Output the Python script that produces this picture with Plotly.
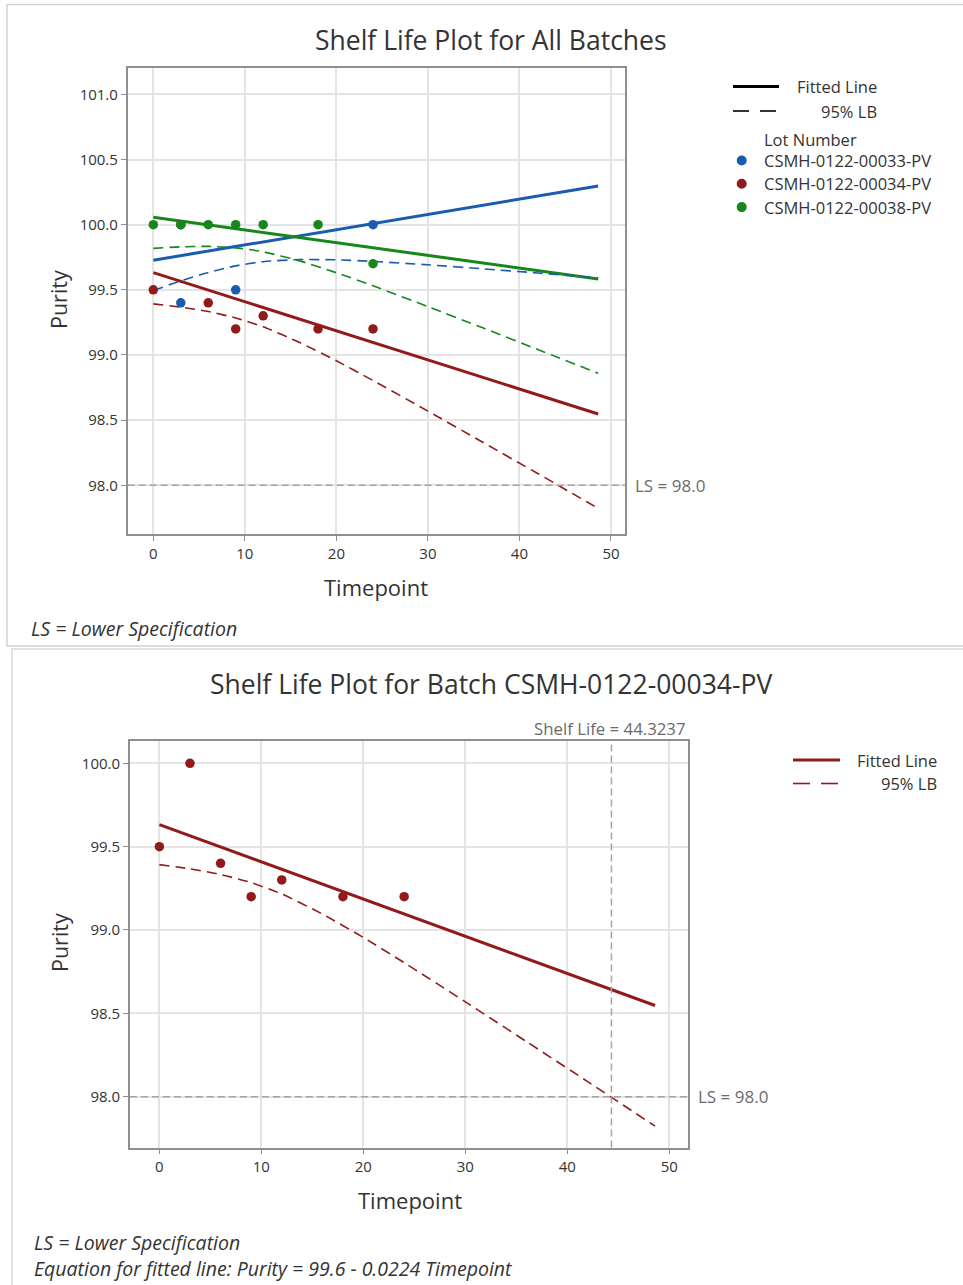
import plotly.graph_objects as go

W, H = 963, 1285

# ---------------- data ----------------
lot_names = ["CSMH-0122-00033-PV", "CSMH-0122-00034-PV", "CSMH-0122-00038-PV"]
lot_colors = ["#1a5cb0", "#931a1a", "#15871b"]

blue_t = [3, 9, 24]
blue_purity = [99.4, 99.5, 100.0]
red_t = [0, 3, 6, 9, 12, 18, 24]
red_purity = [99.5, 100.0, 99.4, 99.2, 99.3, 99.2, 99.2]
green_t = [0, 3, 6, 9, 12, 18, 24]
green_purity = [100.0, 100.0, 100.0, 100.0, 100.0, 100.0, 99.7]

fit_t = [0, 48.6]
blue_fit = [99.727, 100.297]
red_fit = [99.632, 98.547]
green_fit = [100.057, 99.583]

lb_t = [0, 3, 6, 9, 12, 16, 20, 24, 30, 36, 42, 48.6]
blue_lb = [99.495, 99.568, 99.633, 99.684, 99.716, 99.732, 99.730, 99.718, 99.692, 99.661, 99.629, 99.591]
red_lb = [99.392, 99.367, 99.333, 99.284, 99.216, 99.095, 98.955, 98.804, 98.569, 98.330, 98.090, 97.823]
green_lb = [99.818, 99.830, 99.833, 99.822, 99.792, 99.722, 99.631, 99.531, 99.371, 99.208, 99.042, 98.859]

lower_spec = 98.0
shelf_life = 44.3237
x_ticks = [0, 10, 20, 30, 40, 50]
y_ticks_top = [98.0, 98.5, 99.0, 99.5, 100.0, 100.5, 101.0]
y_ticks_bot = [98.0, 98.5, 99.0, 99.5, 100.0]

FONT = "Open Sans"
TXT = "#333333"
GREY = "#6b6b6b"
FRAME = "#8f8f8f"
GRID = "#e4e4e4"


def px(x):
    return x / W


def py(y):
    return 1 - y / H


fig = go.Figure()

# ---------------- top chart ----------------
for t, y, c in [(fit_t, blue_fit, lot_colors[0]), (fit_t, red_fit, lot_colors[1]), (fit_t, green_fit, lot_colors[2])]:
    fig.add_trace(go.Scatter(x=t, y=y, mode="lines", line=dict(color=c, width=3),
                             xaxis="x", yaxis="y", showlegend=False, hoverinfo="skip"))
for t, y, c in [(lb_t, blue_lb, lot_colors[0]), (lb_t, red_lb, lot_colors[1]), (lb_t, green_lb, lot_colors[2])]:
    fig.add_trace(go.Scatter(x=t, y=y, mode="lines",
                             line=dict(color=c, width=1.6, dash="10px,6px", shape="spline", smoothing=0.6),
                             xaxis="x", yaxis="y", showlegend=False, hoverinfo="skip"))
for t, y, c, n in [(blue_t, blue_purity, lot_colors[0], lot_names[0]),
                   (red_t, red_purity, lot_colors[1], lot_names[1]),
                   (green_t, green_purity, lot_colors[2], lot_names[2])]:
    fig.add_trace(go.Scatter(x=t, y=y, mode="markers", marker=dict(color=c, size=9.5),
                             name=n, xaxis="x", yaxis="y", showlegend=False))

# ---------------- bottom chart ----------------
fig.add_trace(go.Scatter(x=fit_t, y=red_fit, mode="lines", line=dict(color=lot_colors[1], width=3),
                         xaxis="x2", yaxis="y2", showlegend=False, hoverinfo="skip"))
fig.add_trace(go.Scatter(x=lb_t, y=red_lb, mode="lines",
                         line=dict(color=lot_colors[1], width=1.6, dash="10px,6px", shape="spline", smoothing=0.6),
                         xaxis="x2", yaxis="y2", showlegend=False, hoverinfo="skip"))
fig.add_trace(go.Scatter(x=red_t, y=red_purity, mode="markers", marker=dict(color=lot_colors[1], size=9.5),
                         name=lot_names[1], xaxis="x2", yaxis="y2", showlegend=False))

axis_common = dict(showgrid=True, gridcolor=GRID, gridwidth=1.5, zeroline=False,
                   showline=True, linecolor=FRAME, linewidth=1.6, mirror=True,
                   ticks="outside", ticklen=5, tickcolor=FRAME, tickwidth=1,
                   tickfont=dict(family=FONT, size=15, color=TXT))

fig.update_layout(
    width=W, height=H, margin=dict(l=0, r=0, t=0, b=0),
    paper_bgcolor="white", plot_bgcolor="white", showlegend=False,
    xaxis=dict(domain=[px(127.7), px(624.7)], range=[-2.8, 51.5], anchor="y",
               tickvals=x_ticks, **axis_common),
    yaxis=dict(domain=[py(534), py(68.3)], range=[97.626, 101.2], anchor="x",
               tickvals=y_ticks_top, ticktext=[f"{v:.1f}" for v in y_ticks_top], **axis_common),
    xaxis2=dict(domain=[px(129.9), px(687.7)], range=[-2.89, 51.8], anchor="y2",
                tickvals=x_ticks, **axis_common),
    yaxis2=dict(domain=[py(1147.5), py(741.3)], range=[97.695, 100.132], anchor="x2",
                tickvals=y_ticks_bot, ticktext=[f"{v:.1f}" for v in y_ticks_bot], **axis_common),
)

shapes = []
annos = []

# panel borders
shapes.append(dict(type="rect", xref="paper", yref="paper", x0=px(7), x1=px(975), y0=py(646), y1=py(4.5),
                   line=dict(color="#d2d2d2", width=1.5), layer="below"))
shapes.append(dict(type="rect", xref="paper", yref="paper", x0=px(12), x1=px(975), y0=py(1295), y1=py(649),
                   line=dict(color="#dadada", width=1.5), layer="below"))

# lower spec lines
for xa, ya in [("x", "y"), ("x2", "y2")]:
    shapes.append(dict(type="line", xref=f"{xa} domain", yref=ya, x0=0, x1=1, y0=lower_spec, y1=lower_spec,
                       line=dict(color="#a3a3a3", width=1.5, dash="7px,4px")))
    annos.append(dict(xref=f"{xa} domain", yref=ya, x=1, y=lower_spec, xanchor="left", yanchor="middle",
                      xshift=8, text=f"LS = {lower_spec:.1f}", showarrow=False,
                      font=dict(family=FONT, size=17, color=GREY)))

# shelf life line
shapes.append(dict(type="line", xref="x2", yref="y2 domain", x0=shelf_life, x1=shelf_life, y0=0, y1=1,
                   line=dict(color="#a3a3a3", width=1.5, dash="7px,4px")))
annos.append(dict(xref="x2 domain", yref="y2 domain", x=1, y=1, xanchor="right", yanchor="bottom",
                  yshift=-1, text=f"Shelf Life = {shelf_life}", showarrow=False,
                  font=dict(family=FONT, size=16.8, color=GREY)))

# titles
annos.append(dict(xref="paper", yref="paper", x=px(490.5), y=py(40), xanchor="center", yanchor="middle",
                  text="Shelf Life Plot for All Batches", showarrow=False,
                  font=dict(family=FONT, size=26.5, color=TXT)))
annos.append(dict(xref="paper", yref="paper", x=px(491.5), y=py(684), xanchor="center", yanchor="middle",
                  text="Shelf Life Plot for Batch CSMH-0122-00034-PV", showarrow=False,
                  font=dict(family=FONT, size=26.5, color=TXT)))

# axis titles
for x, y in [(376, 587), (410, 1200)]:
    annos.append(dict(xref="paper", yref="paper", x=px(x), y=py(y), xanchor="center", yanchor="middle",
                      text="Timepoint", showarrow=False, font=dict(family=FONT, size=22, color=TXT)))
for x, y in [(58, 300), (60, 943)]:
    annos.append(dict(xref="paper", yref="paper", x=px(x), y=py(y), xanchor="center", yanchor="middle",
                      text="Purity", textangle=-90, showarrow=False, font=dict(family=FONT, size=21.5, color=TXT)))

# footnotes
for y, x0, t in [(628, 30, "LS = Lower Specification"), (1242, 33, "LS = Lower Specification"),
                 (1268, 33, "Equation for fitted line: Purity = 99.6 - 0.0224 Timepoint")]:
    annos.append(dict(xref="paper", yref="paper", x=px(x0), y=py(y), xanchor="left", yanchor="middle",
                      text=f"<i>{t}</i>", showarrow=False, borderpad=0,
                      font=dict(family=FONT, size=19.5, color=TXT)))

# ---------------- legends ----------------
LEGF = dict(family=FONT, size=16.5, color=TXT)
# top legend
shapes.append(dict(type="line", xref="paper", yref="paper", x0=px(733), x1=px(779), y0=py(86.5), y1=py(86.5),
                   line=dict(color="black", width=3)))
shapes.append(dict(type="line", xref="paper", yref="paper", x0=px(733), x1=px(749), y0=py(111), y1=py(111),
                   line=dict(color="black", width=1.6)))
shapes.append(dict(type="line", xref="paper", yref="paper", x0=px(760), x1=px(776), y0=py(111), y1=py(111),
                   line=dict(color="black", width=1.6)))
annos.append(dict(xref="paper", yref="paper", x=px(877.5), y=py(87), xanchor="right", yanchor="middle",
                  text="Fitted Line", showarrow=False, borderpad=0, font=LEGF))
annos.append(dict(xref="paper", yref="paper", x=px(877.5), y=py(111), xanchor="right", yanchor="middle",
                  text="95% LB", showarrow=False, borderpad=0, font=LEGF))
annos.append(dict(xref="paper", yref="paper", x=px(762.5), y=py(139), xanchor="left", yanchor="middle",
                  text="Lot Number", showarrow=False, borderpad=0, font=LEGF))
for i, (n, c) in enumerate(zip(lot_names, lot_colors)):
    yc = 160.5 + i * 23.3
    shapes.append(dict(type="circle", xref="paper", yref="paper",
                       x0=px(741.7 - 5), x1=px(741.7 + 5), y0=py(yc + 5), y1=py(yc - 5),
                       fillcolor=c, line=dict(color=c, width=0)))
    annos.append(dict(xref="paper", yref="paper", x=px(762.5), y=py(yc), xanchor="left", yanchor="middle",
                      text=n, showarrow=False, borderpad=0, font=LEGF))

# bottom legend
shapes.append(dict(type="line", xref="paper", yref="paper", x0=px(793), x1=px(840), y0=py(760), y1=py(760),
                   line=dict(color=lot_colors[1], width=3)))
shapes.append(dict(type="line", xref="paper", yref="paper", x0=px(793), x1=px(810), y0=py(783.5), y1=py(783.5),
                   line=dict(color=lot_colors[1], width=1.6)))
shapes.append(dict(type="line", xref="paper", yref="paper", x0=px(821), x1=px(838), y0=py(783.5), y1=py(783.5),
                   line=dict(color=lot_colors[1], width=1.6)))
annos.append(dict(xref="paper", yref="paper", x=px(938), y=py(760), xanchor="right", yanchor="middle",
                  text="Fitted Line", showarrow=False, borderpad=0, font=LEGF))
annos.append(dict(xref="paper", yref="paper", x=px(938), y=py(783.5), xanchor="right", yanchor="middle",
                  text="95% LB", showarrow=False, borderpad=0, font=LEGF))

fig.update_layout(shapes=shapes, annotations=annos)
fig.write_html("out.html", config={"displayModeBar": False},
               post_script="document.body.style.margin='0px';document.body.style.overflow='hidden';")
